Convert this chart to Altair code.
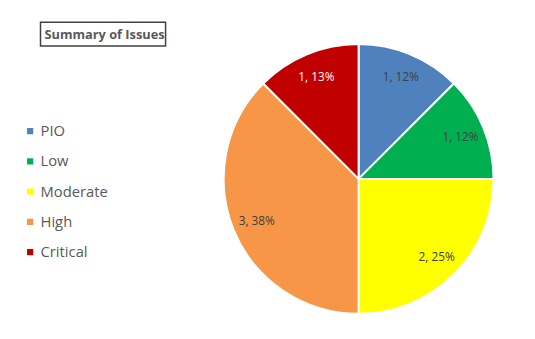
import altair as alt
import pandas as pd

categories = ["PIO", "Low", "Moderate", "High", "Critical"]
counts = [1, 1, 2, 3, 1]
percents = [12, 12, 25, 38, 13]
colors = ["#4F81BD", "#00B050", "#FFFF00", "#F79646", "#C00000"]
label_colors = ["#404040", "#404040", "#404040", "#404040", "#FFFFFF"]
title_text = "Summary of Issues"

df = pd.DataFrame({
    "category": categories,
    "count": counts,
    "order": list(range(len(categories))),
    "label": [f"{c}, {p}%" for c, p in zip(counts, percents)],
    "lcolor": label_colors,
})

theta = alt.Theta("count:Q", stack=True)

arcs = alt.Chart(df).mark_arc(outerRadius=137, stroke="white", strokeWidth=2).encode(
    theta=theta,
    order=alt.Order("order:Q"),
    color=alt.Color(
        "category:N",
        scale=alt.Scale(domain=categories, range=colors),
        sort=categories,
        legend=alt.Legend(
            title=None,
            orient="none",
            legendX=-206,
            legendY=79,
            symbolType="square",
            symbolSize=40,
            symbolStrokeWidth=0,
            labelFont="Open Sans",
            labelFontSize=15,
            labelColor="#595959",
            labelOffset=3,
            rowPadding=14.7,
        ),
    ),
)

labels = alt.Chart(df).mark_text(radius=112, font="Open Sans", fontSize=12).encode(
    theta=theta,
    order=alt.Order("order:Q"),
    text="label:N",
    color=alt.Color("lcolor:N", scale=None),
)

title_df = pd.DataFrame({"t": [title_text]})

box = alt.Chart(title_df).mark_rect(
    fill="white", fillOpacity=0, stroke="#404040", strokeWidth=1.5
).encode(
    x=alt.value(-188), x2=alt.value(-61), y=alt.value(-24), y2=alt.value(0)
)

title = alt.Chart(title_df).mark_text(
    align="left", baseline="alphabetic", font="Open Sans", fontSize=13,
    fontWeight="bold", color="#595959"
).encode(
    text="t:N", x=alt.value(-184), y=alt.value(-7)
)

chart = alt.layer(box, title, arcs, labels).resolve_scale(color="independent").properties(
    width=270,
    height=270,
    autosize=alt.AutoSizeParams(type="none"),
    padding={"left": 221, "top": 36, "right": 36, "bottom": 25},
).configure_view(stroke=None)

chart.save("out.html", embed_options={"renderer": "svg", "actions": False})
